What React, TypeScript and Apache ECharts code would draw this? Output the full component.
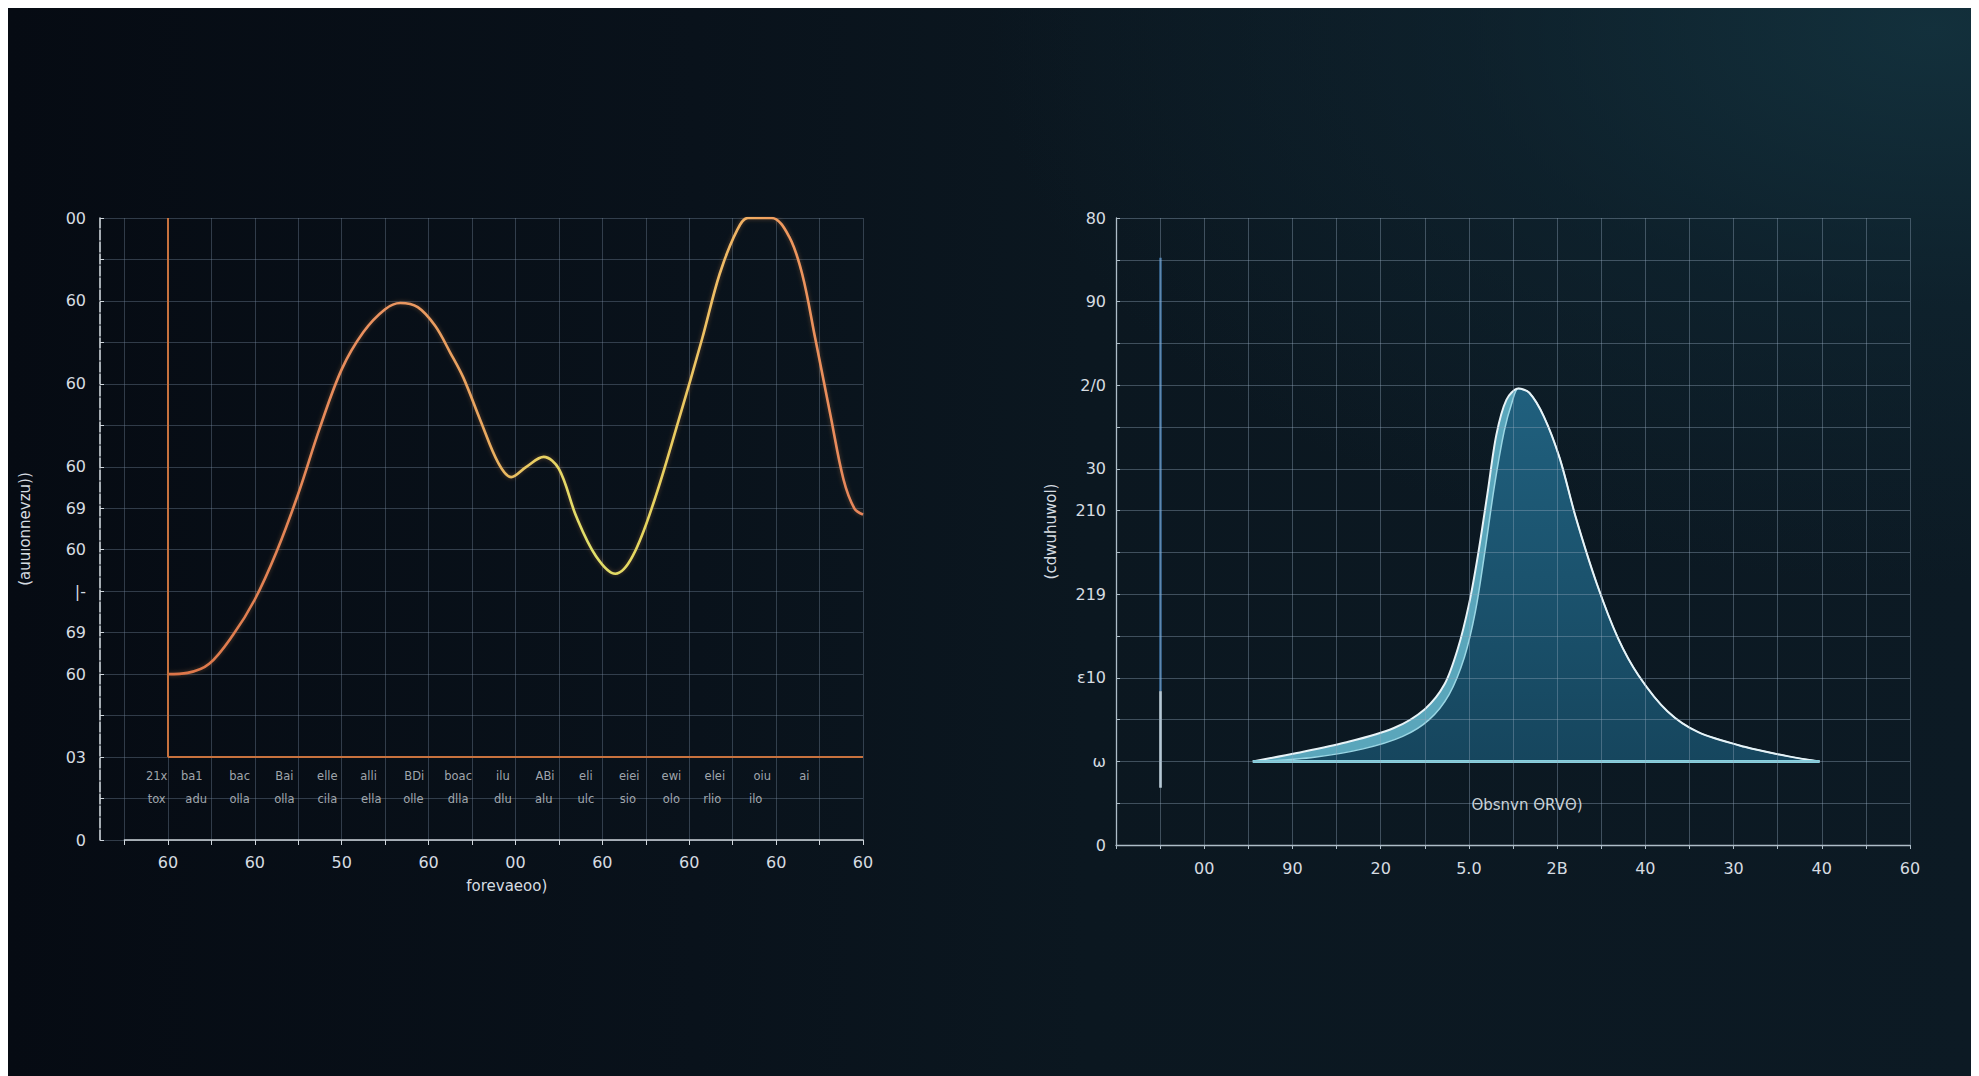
import React, { useEffect, useRef } from "react";
import * as echarts from "echarts";

// ---------- Left chart data ----------
const leftXTicks = [0, 2, 4, 6, 8, 10, 12, 14, 16];
const leftXLabels = ["60", "60", "50", "60", "00", "60", "60", "60", "60"];
const leftYTicks = [15, 13, 11, 9, 8, 7, 6, 5, 4, 2, 0];
const leftYLabels = ["00", "60", "60", "60", "69", "60", "|-", "69", "60", "03", "0"];
const leftXTitle = "forevaeoo)";
const leftYTitle = "(auuıonnevzu))";

const leftCurveX = [0, 0.45, 0.95, 1.5, 2.0, 2.5, 3.0, 3.5, 4.0, 4.5, 5.0, 5.35, 5.75, 6.15, 6.5, 6.8, 7.2, 7.6, 7.9, 8.25, 8.65, 9.0, 9.4, 9.85, 10.3, 10.7, 11.2, 11.75, 12.3, 12.7, 13.1, 13.35, 13.9, 14.3, 14.6, 14.9, 15.25, 15.55, 15.8, 16.0];
const leftCurveY = [4.0, 4.03, 4.25, 4.95, 5.8, 6.95, 8.35, 9.95, 11.35, 12.25, 12.8, 12.95, 12.85, 12.4, 11.75, 11.15, 10.1, 9.1, 8.75, 9.0, 9.24, 8.95, 7.8, 6.85, 6.42, 6.85, 8.2, 10.1, 12.1, 13.65, 14.7, 15.0, 15.0, 14.55, 13.65, 12.1, 10.25, 8.7, 8.0, 7.85];
const leftFrameBase = 2;
const leftFrameTop = 15;
const leftFrameRight = 16;

const row1X = [-0.26, 0.55, 1.65, 2.68, 3.67, 4.62, 5.67, 6.68, 7.71, 8.68, 9.62, 10.62, 11.59, 12.59, 13.68, 14.65];
const row1Text = ["21x", "ba1", "bac", "Bai", "elle", "alli", "BDi", "boac", "ilu", "ABi", "eli", "eiei", "ewi", "elei", "oiu", "ai"];
const row1Y = 1.55;
const row2X = [-0.26, 0.65, 1.65, 2.68, 3.67, 4.68, 5.65, 6.68, 7.71, 8.65, 9.62, 10.59, 11.59, 12.53, 13.53];
const row2Text = ["tox", "adu", "olla", "olla", "cila", "ella", "olle", "dlla", "dlu", "alu", "ulc", "sio", "olo", "rlio", "ilo"];
const row2Y = 1.0;

// ---------- Right chart data ----------
const rightXTicks = [2, 4, 6, 8, 10, 12, 14, 16, 18];
const rightXLabels = ["00", "90", "20", "5.0", "2B", "40", "30", "40", "60"];
const rightYTicks = [15, 13, 11, 9, 8, 6, 4, 2, 0];
const rightYLabels = ["80", "90", "2/0", "30", "210", "219", "ε10", "ω", "0"];
const rightYTitle = "(cdwuhuwol)";
const rightInnerTitle = "Θbsnvn ΘRVΘ)";

const bellOuterX = [3.1, 4.1, 5.2, 6.3, 7.0, 7.45, 7.75, 8.0, 8.2, 8.42, 8.62, 8.85, 9.12, 9.37, 9.7, 10.06, 10.42, 10.9, 11.38, 11.85, 12.5, 13.2, 14.25, 15.25, 15.95];
const bellOuterY = [2.0, 2.2, 2.45, 2.8, 3.25, 3.85, 4.7, 5.75, 6.9, 8.4, 9.8, 10.65, 10.92, 10.82, 10.25, 9.25, 7.85, 6.25, 4.95, 4.05, 3.2, 2.7, 2.35, 2.12, 2.0];
const bellInnerX = [3.3, 4.5, 5.6, 6.5, 7.1, 7.55, 7.9, 8.15, 8.36, 8.58, 8.8, 8.98, 9.12, 9.37, 9.7, 10.06, 10.42, 10.9, 11.38, 11.85, 12.5, 13.2, 14.25, 15.25, 15.95];
const bellInnerY = [2.0, 2.1, 2.3, 2.6, 3.0, 3.6, 4.5, 5.6, 7.0, 8.6, 9.9, 10.6, 10.92, 10.82, 10.25, 9.25, 7.85, 6.25, 4.95, 4.05, 3.2, 2.7, 2.35, 2.12, 2.0];
const bellBase = 2;
const bellStartX = 3.1;
const bellEndX = 15.95;
const markerX = 1;
const markerTop = 14.05;
const markerMid = 3.68;
const markerBottom = 1.37;

// ---------- helpers ----------
const pick = (ticks: number[], labels: string[]) => (v: number) => {
  const i = ticks.indexOf(Math.round(v * 1000) / 1000);
  return i >= 0 ? labels[i] : "";
};
const zip = (xs: number[], ys: number[]) => xs.map((x, i) => [x, ys[i]]);

const FONT = "DejaVu Sans";
const TXT = "#d6dce1";
const LEFT_GRID = "rgba(125,145,165,0.36)";
const RIGHT_GRID = "rgba(150,172,192,0.38)";

function buildOption() {
  const leftGradient = new echarts.graphic.LinearGradient(0, 0, 1, 0, [
    { offset: 0, color: "#dc7448" },
    { offset: 0.3, color: "#eb9260" },
    { offset: 0.45, color: "#e9a660" },
    { offset: 0.53, color: "#e9cf62" },
    { offset: 0.61, color: "#e0e06a" },
    { offset: 0.69, color: "#e6d45e" },
    { offset: 0.8, color: "#f0bb66" },
    { offset: 0.88, color: "#f09a5e" },
    { offset: 1, color: "#e6845a" },
  ]);
  const innerFill = new echarts.graphic.LinearGradient(0, 0, 0, 1, [
    { offset: 0, color: "#20607e" },
    { offset: 1, color: "#16465e" },
  ]);

  return {
    animation: false,
    backgroundColor: "transparent",
    textStyle: { fontFamily: FONT },
    grid: [
      { left: 116.5, top: 210, width: 738.5, height: 622 },
      { left: 92, top: 210, width: 24.5, height: 622 },
      { left: 1108, top: 210, width: 794, height: 627 },
    ],
    xAxis: [
      {
        gridIndex: 0,
        type: "value",
        min: -1,
        max: 16,
        interval: 1,
        axisLine: { show: true, onZero: false, lineStyle: { color: "#cfd6dc", width: 1.6 } },
        axisTick: { show: true, length: 5, lineStyle: { color: "#cfd6dc" } },
        axisLabel: { formatter: pick(leftXTicks, leftXLabels), color: TXT, fontSize: 16, margin: 14, fontFamily: FONT },
        splitLine: { show: true, lineStyle: { color: LEFT_GRID, width: 1 } },
        name: leftXTitle,
        nameLocation: "middle",
        nameGap: 38,
        nameTextStyle: { color: TXT, fontSize: 15, fontFamily: FONT, padding: [0, 0, 0, 26] },
      },
      { gridIndex: 1, type: "value", min: 0, max: 1, show: false },
      {
        gridIndex: 2,
        type: "value",
        min: 0,
        max: 18,
        interval: 1,
        z: 10,
        axisLine: { show: true, onZero: false, lineStyle: { color: "#aebdc8", width: 1.3 } },
        axisTick: { show: true, length: 4, lineStyle: { color: "#aebdc8" } },
        axisLabel: {
          formatter: pick(rightXTicks, rightXLabels),
          color: (v: number) => (v === 18 ? "#6fa8d2" : TXT),
          fontSize: 16,
          margin: 15,
          fontFamily: FONT,
        },
        splitLine: { show: true, lineStyle: { color: RIGHT_GRID, width: 1 } },
      },
    ],
    yAxis: [
      {
        gridIndex: 0,
        type: "value",
        min: 0,
        max: 15,
        interval: 1,
        offset: 24.5,
        axisLine: { show: true, onZero: false, lineStyle: { color: "#cfd6dc", width: 1.6, type: [10, 2] } },
        axisTick: { show: true, inside: true, length: 4, lineStyle: { color: "#cfd6dc" } },
        axisLabel: { formatter: pick(leftYTicks, leftYLabels), color: TXT, fontSize: 16, margin: 14, fontFamily: FONT },
        splitLine: { show: true, lineStyle: { color: LEFT_GRID, width: 1 } },
        name: leftYTitle,
        nameLocation: "middle",
        nameGap: 68,
        nameRotate: 90,
        nameTextStyle: { color: TXT, fontSize: 15, fontFamily: FONT },
      },
      {
        gridIndex: 1,
        type: "value",
        min: 0,
        max: 15,
        interval: 1,
        axisLine: { show: false },
        axisTick: { show: false },
        axisLabel: { show: false },
        splitLine: { show: true, lineStyle: { color: LEFT_GRID, width: 1 } },
      },
      {
        gridIndex: 2,
        type: "value",
        min: 0,
        max: 15,
        interval: 1,
        z: 10,
        axisLine: { show: true, onZero: false, lineStyle: { color: "#aebdc8", width: 1.3 } },
        axisTick: { show: true, inside: true, length: 4, lineStyle: { color: "#aebdc8" } },
        axisLabel: { formatter: pick(rightYTicks, rightYLabels), color: TXT, fontSize: 16, margin: 10, fontFamily: FONT },
        splitLine: { show: true, lineStyle: { color: RIGHT_GRID, width: 1 } },
        name: rightYTitle,
        nameLocation: "middle",
        nameGap: 58,
        nameRotate: 90,
        nameTextStyle: { color: TXT, fontSize: 15, fontFamily: FONT },
      },
    ],
    graphic: [
      {
        type: "text",
        x: 1519,
        y: 797,
        style: {
          text: rightInnerTitle,
          fill: "#c9d2d8",
          fontSize: 15,
          fontFamily: FONT,
          textAlign: "center",
          textVerticalAlign: "middle",
        },
        z: 20,
      },
    ],
    series: [
      {
        type: "line",
        xAxisIndex: 0,
        yAxisIndex: 0,
        data: zip(leftCurveX, leftCurveY),
        smooth: 0.35,
        symbol: "none",
        z: 4,
        lineStyle: { width: 2.6, color: leftGradient, shadowBlur: 4, shadowColor: "rgba(240,150,80,0.35)" },
        markLine: {
          silent: true,
          symbol: ["none", "none"],
          label: { show: false },
          lineStyle: { color: "#c8723e", width: 2, type: "solid" },
          data: [
            [{ coord: [0, leftFrameBase] }, { coord: [0, leftFrameTop] }],
            [{ coord: [0, leftFrameBase] }, { coord: [leftFrameRight, leftFrameBase] }],
          ],
        },
      },
      {
        type: "scatter",
        xAxisIndex: 0,
        yAxisIndex: 0,
        symbolSize: 1,
        itemStyle: { color: "rgba(0,0,0,0)" },
        data: row1X.map((x, i) => ({ value: [x, row1Y], name: row1Text[i] })),
        label: { show: true, position: "inside", formatter: "{b}", color: "#c8ced4", fontSize: 11.5, fontFamily: FONT },
      },
      {
        type: "scatter",
        xAxisIndex: 0,
        yAxisIndex: 0,
        symbolSize: 1,
        itemStyle: { color: "rgba(0,0,0,0)" },
        data: row2X.map((x, i) => ({ value: [x, row2Y], name: row2Text[i] })),
        label: { show: true, position: "inside", formatter: "{b}", color: "#c8ced4", fontSize: 11.5, fontFamily: FONT },
      },
      {
        type: "line",
        xAxisIndex: 2,
        yAxisIndex: 2,
        data: zip(bellOuterX, bellOuterY),
        smooth: 0.3,
        symbol: "none",
        z: 2,
        lineStyle: { width: 0, opacity: 0 },
        areaStyle: { origin: bellBase, color: "#5aa6bb", opacity: 1 },
      },
      {
        type: "line",
        xAxisIndex: 2,
        yAxisIndex: 2,
        data: zip(bellInnerX, bellInnerY),
        smooth: 0.3,
        symbol: "none",
        z: 3,
        lineStyle: { width: 1.5, color: "#9ad6e4" },
        areaStyle: { origin: bellBase, color: innerFill, opacity: 1 },
      },
      {
        type: "line",
        xAxisIndex: 2,
        yAxisIndex: 2,
        data: zip(bellOuterX, bellOuterY),
        smooth: 0.3,
        symbol: "none",
        z: 4,
        lineStyle: { width: 2, color: "#e8f3f7" },
        markLine: {
          silent: true,
          symbol: ["none", "none"],
          label: { show: false },
          data: [
            [
              { coord: [bellStartX, bellBase], lineStyle: { color: "#86d0de", width: 3, type: "solid" } },
              { coord: [bellEndX, bellBase] },
            ],
            [
              { coord: [markerX, markerTop], lineStyle: { color: "#3f72a0", width: 2.5, type: "solid" } },
              { coord: [markerX, markerMid] },
            ],
            [
              { coord: [markerX, markerMid], lineStyle: { color: "#c9dae4", width: 2.5, type: "solid" } },
              { coord: [markerX, markerBottom] },
            ],
          ],
        },
      },
    ],
  };
}

export default function App() {
  const ref = useRef<HTMLDivElement>(null);
  useEffect(() => {
    document.documentElement.style.overflow = "hidden";
    document.body.style.overflow = "hidden";
    const chart = echarts.init(ref.current as HTMLDivElement, null, { renderer: "svg" });
    chart.setOption(buildOption() as any);
    return () => {
      chart.dispose();
    };
  }, []);
  return (
    <div
      ref={ref}
      style={{
        width: 1963,
        height: 1068,
        background:
          "radial-gradient(ellipse 60% 65% at 98% 2%, rgba(20,52,64,0.85) 0%, rgba(16,40,52,0.5) 40%, rgba(12,28,38,0) 80%), linear-gradient(90deg, #060b13 0%, #09121b 35%, #0b1720 55%, #0c1a24 100%)",
      }}
    />
  );
}
